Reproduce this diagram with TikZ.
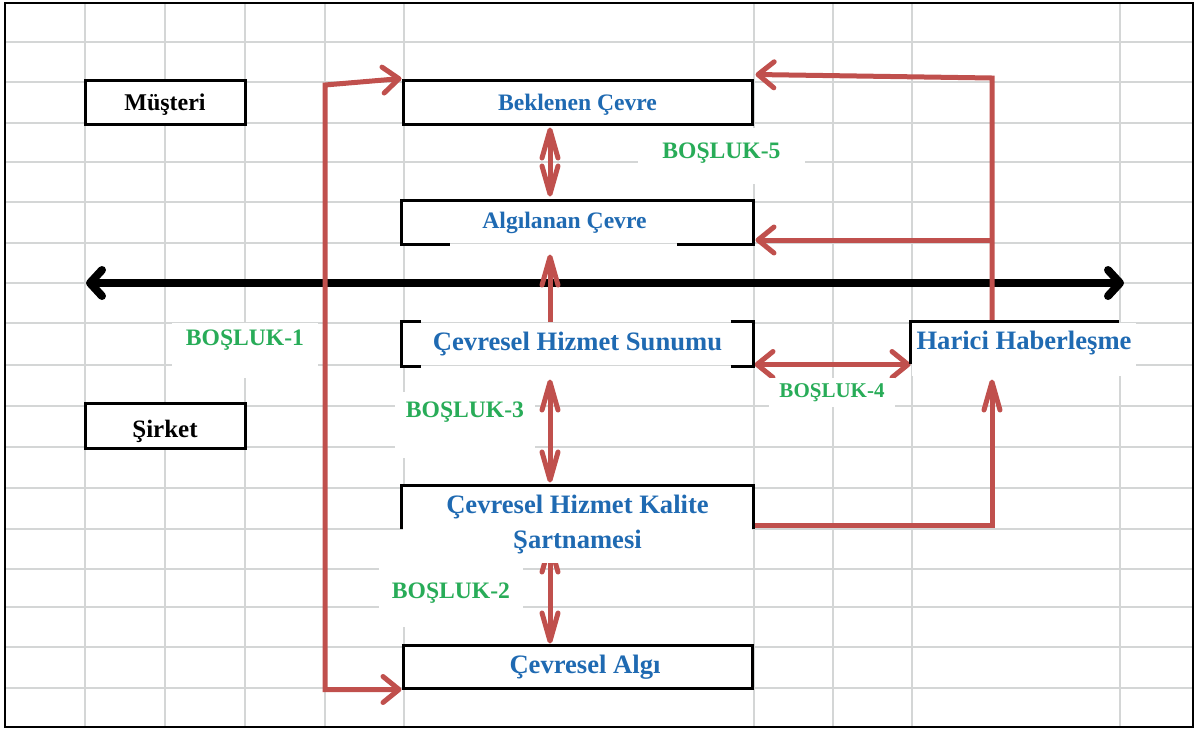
\documentclass[tikz,border=0pt]{standalone}
\usepackage{fontspec}
\setmainfont{Liberation Serif}
\usetikzlibrary{arrows.meta, positioning, calc}

\definecolor{linkred}{RGB}{192,80,77}
\definecolor{textblue}{RGB}{31,106,178}
\definecolor{gapgreen}{RGB}{40,172,88}
\definecolor{gridgray}{RGB}{212,214,214}

\pgfdeclarelayer{grid}
\pgfdeclarelayer{links}
\pgfsetlayers{grid,links,main}

\newcommand{\lift}[2]{\raisebox{#1}[\height][\depth]{#2}}

\tikzset{
    hbarb/.tip={Straight Barb[length=8pt,width=13pt,round]},
    vbarb/.tip={Straight Barb[length=14pt,width=8pt,round]},
    bbarb/.tip={Straight Barb[length=6pt,width=13pt,round]},
    gridline/.style={draw=gridgray, line width=1pt},
    outbox/.style={draw=black, line width=1.5pt, fill=white, inner sep=0pt, minimum width=174.5pt,
        text=textblue, font=\bfseries\fontsize{13.3}{17.5}\selectfont},
    smalltext/.style={font=\bfseries\fontsize{11.8}{14}\selectfont},
    rim/.style={draw=black, line width=1.5pt},
    redlink/.style={draw=linkred, line width=2.5pt},
    gaptext/.style={fill=white, text=gapgreen, inner sep=0pt, font=\bfseries\fontsize{11.8}{14}\selectfont}
}

\begin{document}
\begin{tikzpicture}[x=0.5pt, y=-0.5pt]
    \useasboundingbox (0,0) rectangle (1195,729);

    \begin{pgfonlayer}{grid}
        \foreach \y in {42,82,123,162,202,243,283,323,365,406,447,488,529,569,607,647,688}
            \draw[gridline] (5,\y) -- (1193,\y);
        \foreach \x in {85,165,245,325,404,754,833,912,1120}
            \draw[gridline] (\x,3) -- (\x,727);
    \end{pgfonlayer}
    \draw[line width=1.3pt] (5,3) rectangle (1193,727);

    % sides
    \node[outbox, minimum width=80pt, minimum height=22pt, text=black, font=\bfseries\fontsize{12}{14}\selectfont] (musteri) at (165,102) {\lift{-1.5pt}{Müşteri}};
    \node[outbox, minimum width=80pt, minimum height=22.5pt, text=black, font=\bfseries\fontsize{12.5}{14}\selectfont] (sirket) at (165,425.5) {\lift{-3pt}{Şirket}};

    % boxes
    \node[outbox, smalltext, minimum height=22pt] (bek) at (577.5,102) {\lift{-1.5pt}{Beklenen Çevre}};
    \node[outbox, smalltext, draw=none, minimum height=20.5pt] (alg) at (577.5,222.5) {Algılanan Çevre\hspace*{13pt}};
    \node[outbox, draw=none, minimum height=21pt] (sun) at (577.5,344) {Çevresel Hizmet Sunumu};
    \node[outbox, draw=none, minimum height=38pt, align=center] (kal) at (577.5,525) {Çevresel Hizmet Kalite\\Şartnamesi};
    \node[outbox, minimum height=21.5pt] (algi) at (577.5,666.5) {\hspace*{7.5pt}\lift{-0.5pt}{Çevresel Algı}};
    \node[outbox, draw=none, minimum width=112pt, minimum height=26.5pt] (har) at (1024,349.5) {\lift{3pt}{Harici Haberleşme}};

    \draw[rim] ($(alg.south west)+(48,0)$) -- (alg.south west) -- (alg.north west) -- (alg.north east) -- (alg.south east) -- ++(-77,0);
    \draw[rim] ($(sun.north west)+(19,0)$) -- (sun.north west) -- (sun.south west) -- ++(19,0);
    \draw[rim] ($(sun.north east)+(-23,0)$) -- (sun.north east) -- (sun.south east) -- ++(-23,0);
    \draw[rim] ($(kal.north west)+(0,43)$) -- (kal.north west) -- (kal.north east) -- ++(0,43);
    \draw[rim] ($(har.north west)+(0,42)$) -- (har.north west) -- ++(208,0);

    % gaps
    \node[gaptext, minimum width=73pt, minimum height=27.5pt] (g1) at (245,350.5) {\lift{5.25pt}{BOŞLUK-1}};
    \node[gaptext, minimum width=70pt, minimum height=33pt] (g3) at (465,425) {\lift{6.5pt}{BOŞLUK-3}};
    \node[gaptext, minimum width=72pt, minimum height=33.5pt] (g2) at (451,593.5) {BOŞLUK-2};
    \node[gaptext, minimum width=63pt, minimum height=14.5pt, font=\bfseries\fontsize{10.5}{12}\selectfont] (g4) at (832,392.5) {BOŞLUK-4};
    \node[gaptext, minimum width=83.5pt, minimum height=28pt] (g5) at (721.5,156) {\lift{1.5pt}{BOŞLUK-5}};

    \begin{pgfonlayer}{links}
        \coordinate (axis) at (550,0);
        \coordinate (lc) at (325,85);
        \coordinate (rc) at (992,78);
        \coordinate (rb) at (992,240);
        \coordinate (kq) at ($(kal.north east)+(1,40)$);
        \coordinate (ht) at ($(rc |- har.south)+(0,2)$);
        \coordinate (s4) at ($(sun.south east)+(1,-2)$);
        \coordinate (tl) at (86,283);
        \coordinate (tr) at (1124,283);

        \draw[line width=4pt, bbarb-bbarb] (tl) -- (tr);
        \draw[redlink, hbarb-hbarb] (bek.north west) -- (lc) |- (algi.south west);
        \draw[redlink, -hbarb] (rc |- har.north) -- (rc) -- ($(bek.north east)+(2,-4)$);
        \draw[redlink, -hbarb] (rb) -- ($(rb -| alg.east)+(2,0)$);
        \draw[redlink, -vbarb] (kq) -| (ht);
        \draw[redlink, hbarb-hbarb] (s4) -- (s4 -| har.west);
        \draw[redlink, vbarb-vbarb, shorten <=1pt, shorten >=2pt] (bek.south -| axis) -- (alg.north -| axis);
        \draw[redlink, -vbarb, shorten >=5pt] (sun.north -| axis) -- (alg.south -| axis);
        \draw[redlink, vbarb-vbarb, shorten <=6.5pt, shorten >=1.5pt] (sun.south -| axis) -- (kal.north -| axis);
        \draw[redlink, vbarb-vbarb] ($(kal.south -| axis)+(0,-23)$) -- (algi.north -| axis);
    \end{pgfonlayer}
\end{tikzpicture}
\end{document}
